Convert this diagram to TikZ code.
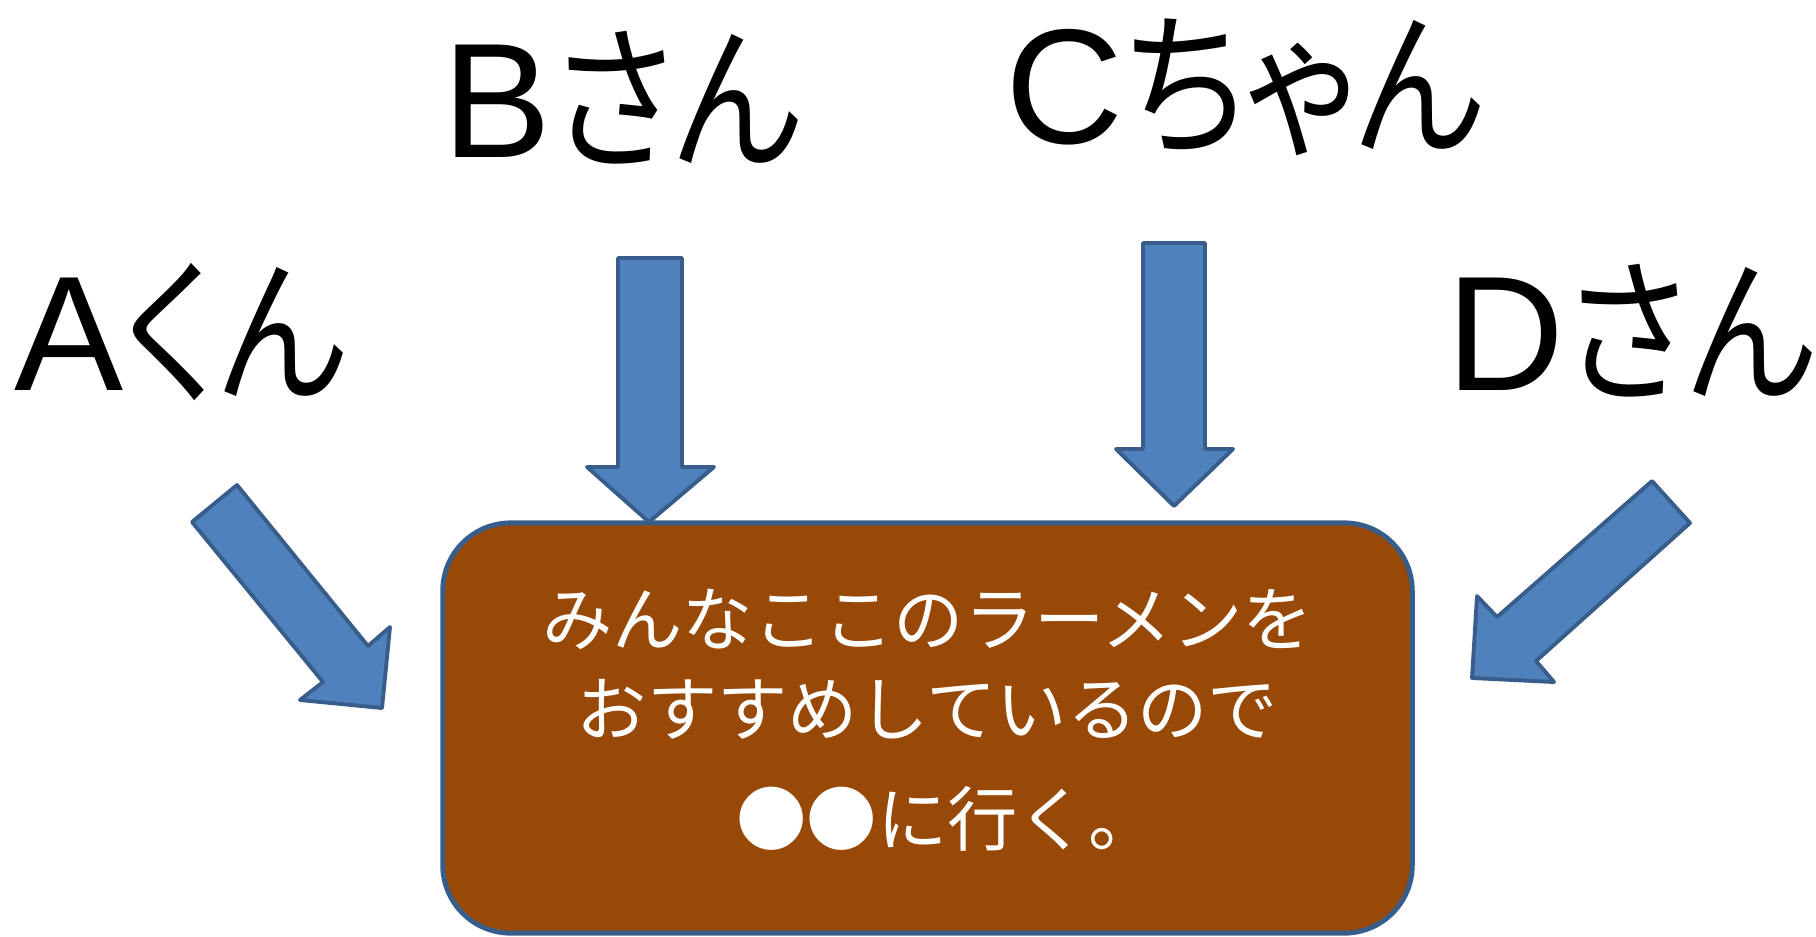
\documentclass[tikz,border=0pt]{standalone}
\usepackage{fontspec}
\newfontfamily\latinfont{Liberation Sans}
\newfontfamily\jpfont[RawFeature=+palt]{Noto Sans CJK JP}
\newfontfamily\jpbox{Noto Sans CJK JP}
\definecolor{arrowfill}{HTML}{4F81BD}
\definecolor{arrowline}{HTML}{385D8A}
\definecolor{ramen}{HTML}{984807}
\newcommand{\person}[2]{{\latinfont\fontsize{46.5}{50}\selectfont #1}\kern0.01cm
 \scalebox{0.86}[1]{\jpfont\fontsize{45}{50}\selectfont #2}}

\begin{document}
\begin{tikzpicture}[x=0.01cm,y=-0.01cm,
 blockarrow/.style={fill=arrowfill,draw=arrowline,line width=1.1pt,line join=round},
 who/.style={anchor=base west,inner sep=0pt}]
\useasboundingbox (0,0) rectangle (1816,936);
% names
\node[who] (a) at (14,390) {\person{A}{くん}};
\node[who] (b) at (442,157) {\person{B}{さん}};
\node[who] (c) at (1005,143) {\person{C}{ちゃん}};
\node[who] (d) at (1446,390) {\person{D}{さん}};
% the shop
\node[draw=arrowline,fill=ramen,line width=1.4pt,rounded corners=0.68cm,
 minimum width=9.69cm,minimum height=4.1cm,inner sep=0pt] (shop) at (927.5,728) {};
\node[text=white,align=center,inner sep=0pt,font={\jpbox\fontsize{20}{25.6}\selectfont}]
 (msg) at ([yshift=0.08cm]shop.center) {みんなここのラーメンを\\おすすめしているので\\[0.2cm]\hspace*{0.4cm}●●に行く。};
% arrows
\draw[blockarrow] (237,485) -- (192,522) -- (323,682) -- (300,700) -- (382,708) -- (390,627) -- (368,646) -- cycle;
\draw[blockarrow] (618,258) -- (682,258) -- (682,467) -- (714,467) -- (649,522) -- (587,467) -- (618,467) -- cycle;
\draw[blockarrow] (1143,243) -- (1205,243) -- (1205,449) -- (1233,449) -- (1174,506) -- (1116,449) -- (1143,449) -- cycle;
\draw[blockarrow] (1652,481) -- (1690,523) -- (1536,661) -- (1554,682) -- (1472,678) -- (1477,596) -- (1497,617) -- cycle;
\end{tikzpicture}
\end{document}
